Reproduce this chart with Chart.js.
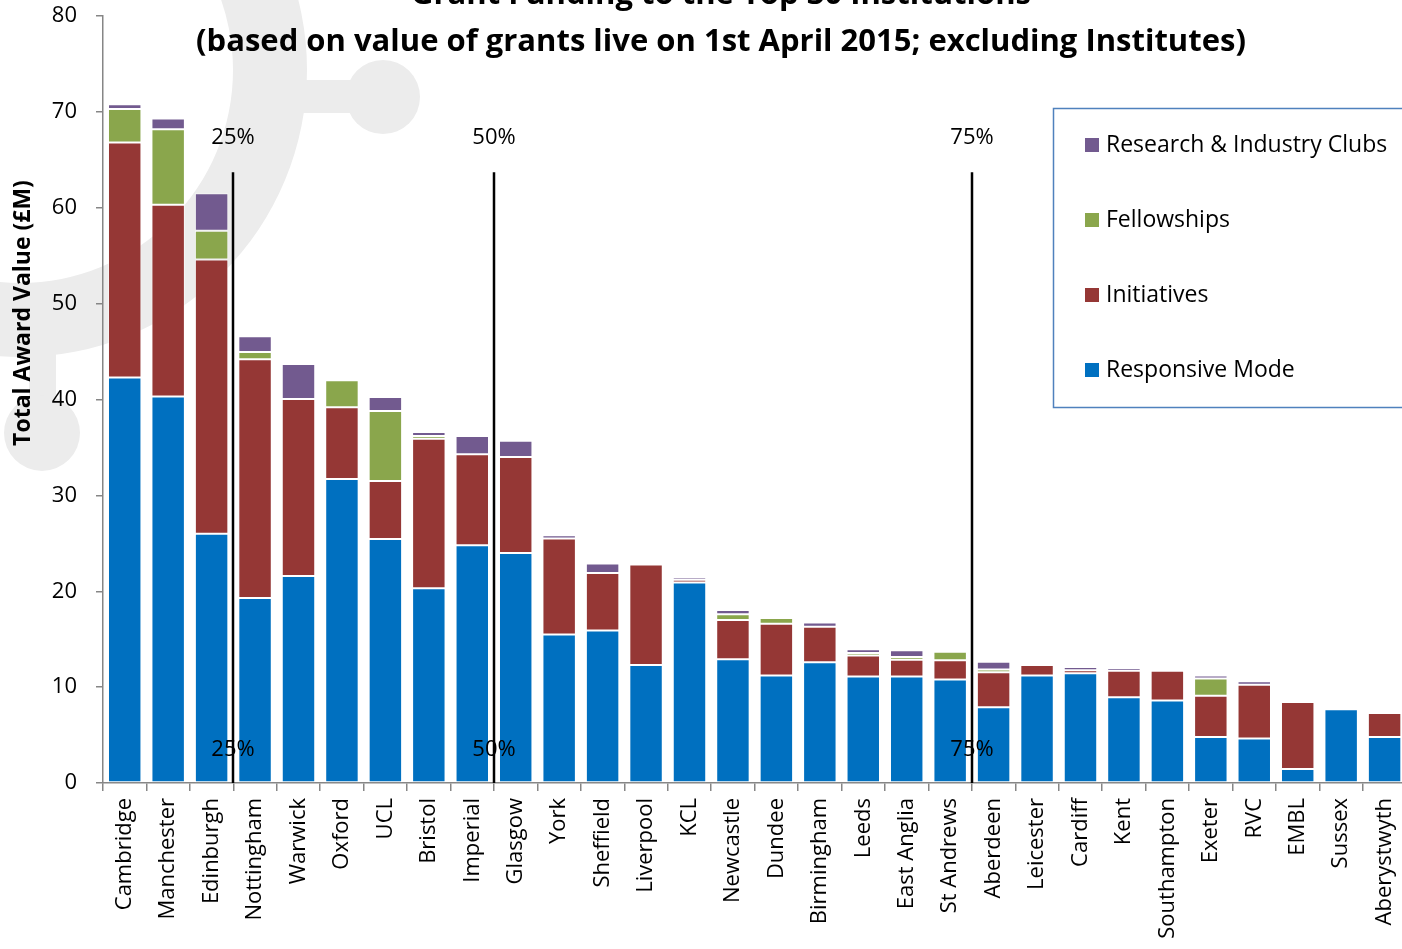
<!DOCTYPE html>
<html>
<head>
<meta charset="utf-8">
<script src="https://cdn.jsdelivr.net/npm/chart.js@4.4.1/dist/chart.umd.min.js"></script>
<style>
  html, body { margin: 0; padding: 0; background: #fff; overflow: hidden; }
  canvas { display: block; }
</style>
</head>
<body>
<canvas id="grants" width="1418" height="949"></canvas>
<script>
const institutions = ["Cambridge", "Manchester", "Edinburgh", "Nottingham", "Warwick", "Oxford", "UCL",
  "Bristol", "Imperial", "Glasgow", "York", "Sheffield", "Liverpool", "KCL", "Newcastle", "Dundee",
  "Birmingham", "Leeds", "East Anglia", "St Andrews", "Aberdeen", "Leicester", "Cardiff", "Kent",
  "Southampton", "Exeter", "RVC", "EMBL", "Sussex", "Aberystwyth"];

const responsiveMode = [42.3, 40.3, 26.0, 19.3, 21.6, 31.7, 25.45, 20.3, 24.8, 24.0, 15.5, 15.9, 12.3, 20.9, 12.9,
  11.2, 12.6, 11.1, 11.1, 10.8, 7.9, 11.2, 11.45, 8.95, 8.6, 4.8, 4.65, 1.45, 7.7, 4.8];
const initiatives = [24.5, 20.0, 28.6, 24.9, 18.45, 7.5, 6.05, 15.6, 9.5, 10.0, 10.0, 6.0, 10.5, 0.3, 4.1,
  5.4, 3.7, 2.2, 1.75, 2.0, 3.65, 1.1, 0.3, 2.75, 3.1, 4.3, 5.6, 7.0, 0, 2.5];
const fellowships = [3.5, 7.9, 3.0, 0.75, 0, 2.8, 7.3, 0.3, 0, 0, 0, 0, 0, 0, 0.6,
  0.6, 0, 0.25, 0.3, 0.9, 0.3, 0, 0, 0, 0, 1.8, 0, 0, 0, 0];
const researchClubs = [0.5, 1.1, 3.9, 1.65, 3.65, 0.1, 1.45, 0.4, 1.9, 1.7, 0.35, 1.0, 0, 0.25, 0.45,
  0, 0.45, 0.4, 0.7, 0, 0.8, 0, 0.35, 0.3, 0, 0.3, 0.35, 0, 0, 0];

const yTicks = [0, 10, 20, 30, 40, 50, 60, 70, 80];

// quartile markers: number of institutions before each line
const quartileAfter = [3, 9, 20];
const quartileLabels = ["25%", "50%", "75%"];

const titleLines = ["Grant Funding to the Top 30 Institutions",
  "(based on value of grants live on 1st April 2015; excluding Institutes)"];
const yTitle = "Total Award Value (£M)";

const FONT = "'Open Sans', 'DejaVu Sans', sans-serif";

const watermark = {
  id: "watermark",
  beforeDraw(chart) {
    const ctx = chart.ctx;
    ctx.save();
    ctx.fillStyle = "#ececec";
    ctx.beginPath();
    ctx.arc(20, 70, 287, 0, Math.PI * 2);
    ctx.arc(20, 70, 213, 0, Math.PI * 2, true);
    ctx.fill();
    ctx.fillRect(295, 80, 90, 33);
    ctx.beginPath();
    ctx.arc(383, 97, 37, 0, Math.PI * 2);
    ctx.fill();
    ctx.fillRect(29, 340, 27, 95);
    ctx.beginPath();
    ctx.arc(42, 433, 38, 0, Math.PI * 2);
    ctx.fill();
    ctx.restore();
  }
};

const quartiles = {
  id: "quartiles",
  afterDatasetsDraw(chart) {
    const { ctx, scales: { x, y } } = chart;
    ctx.save();
    ctx.strokeStyle = "#000";
    ctx.lineWidth = 2.5;
    ctx.fillStyle = "#000";
    ctx.font = "22px " + FONT;
    ctx.textAlign = "center";
    ctx.textBaseline = "middle";
    quartileAfter.forEach((n, i) => {
      const px = Math.round((x.getPixelForValue(n - 1) + x.getPixelForValue(n)) / 2);
      ctx.beginPath();
      ctx.moveTo(px, y.getPixelForValue(63.7));
      ctx.lineTo(px, y.getPixelForValue(0));
      ctx.stroke();
      ctx.fillText(quartileLabels[i], px, y.getPixelForValue(67.3));
      ctx.fillText(quartileLabels[i], px, y.getPixelForValue(3.5));
    });
    ctx.restore();
  }
};

const titleAndLegend = {
  id: "titleAndLegend",
  afterDraw(chart) {
    const ctx = chart.ctx;
    ctx.save();
    ctx.fillStyle = "#000";
    ctx.textAlign = "center";
    ctx.textBaseline = "alphabetic";
    ctx.font = "bold 31px " + FONT;
    ctx.fillText(titleLines[0], 721, 4);
    ctx.fillText(titleLines[1], 721, 51);

    // rotated y axis title
    ctx.save();
    ctx.translate(23, 313);
    ctx.rotate(-Math.PI / 2);
    ctx.textBaseline = "middle";
    ctx.font = "bold 23px " + FONT;
    ctx.fillText(yTitle, 0, 0);
    ctx.restore();

    // legend box
    ctx.strokeStyle = "#4f81bd";
    ctx.lineWidth = 1.5;
    ctx.strokeRect(1053.5, 108.5, 400, 299);
    ctx.font = "23px " + FONT;
    ctx.textAlign = "left";
    ctx.textBaseline = "middle";
    const sets = chart.data.datasets.slice().reverse();
    sets.forEach((ds, i) => {
      const cy = 145 + i * 75;
      ctx.fillStyle = ds.backgroundColor;
      ctx.fillRect(1085, cy - 7, 14, 14);
      ctx.fillStyle = "#000";
      ctx.fillText(ds.label, 1106, cy);
    });
    ctx.restore();
  }
};

const border = "rgba(255,255,255,0.55)";

new Chart(document.getElementById("grants"), {
  type: "bar",
  data: {
    labels: institutions,
    datasets: [
      { label: "Responsive Mode", data: responsiveMode, backgroundColor: "#0070c0" },
      { label: "Initiatives", data: initiatives, backgroundColor: "#953735" },
      { label: "Fellowships", data: fellowships, backgroundColor: "#8aa64c" },
      { label: "Research & Industry Clubs", data: researchClubs, backgroundColor: "#725a8f" },
    ].map(d => Object.assign(d, { borderColor: border, borderWidth: 1, borderSkipped: false,
      barPercentage: 0.77, categoryPercentage: 1 })),
  },
  options: {
    responsive: false,
    animation: false,
    layout: { padding: { top: 16, left: 0, right: 0, bottom: 0 } },
    plugins: {
      legend: { display: false },
      title: { display: false },
      tooltip: { enabled: false },
    },
    scales: {
      x: {
        stacked: true,
        afterFit: s => { s.height = 166; },
        border: { color: "#868686", width: 1.5 },
        grid: { offset: true, drawOnChartArea: false, tickLength: 8, color: "#868686", lineWidth: 1.5 },
        ticks: {
          autoSkip: false, minRotation: 90, maxRotation: 90, padding: 7,
          color: "#000", font: { family: FONT, size: 22 },
        },
      },
      y: {
        stacked: true,
        min: 0,
        max: 80,
        afterFit: s => { s.width = 103; s.paddingTop = 0; s.paddingBottom = 0; },
        afterBuildTicks: s => { s.ticks = yTicks.map(v => ({ value: v })); },
        border: { color: "#868686", width: 1.5 },
        grid: { drawOnChartArea: false, tickLength: 7, color: "#868686", lineWidth: 1.5 },
        ticks: { padding: 19, color: "#000", font: { family: FONT, size: 22 } },
      },
    },
  },
  plugins: [watermark, quartiles, titleAndLegend],
});
</script>
</body>
</html>
